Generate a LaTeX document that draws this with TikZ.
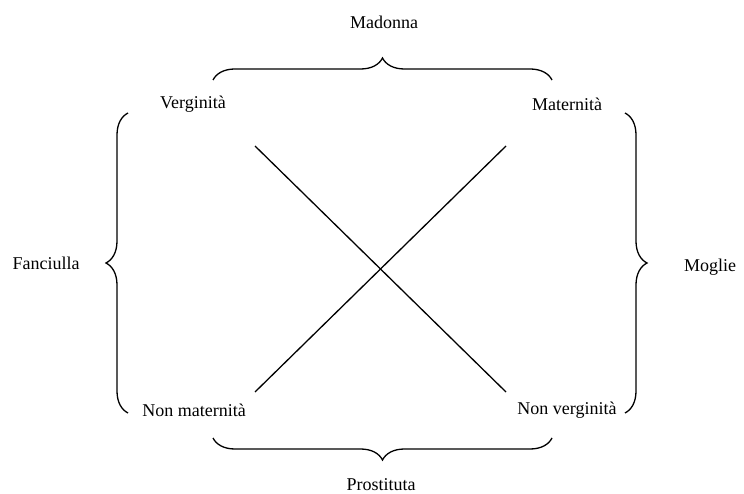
\documentclass[tikz,border=0pt]{standalone}
\usepackage{fontspec}
\setmainfont{Liberation Serif}
\usepackage{tikz}
\usetikzlibrary{decorations.pathreplacing}

\begin{document}
\begin{tikzpicture}[x=1pt,y=-1pt,font=\fontsize{18}{21}\selectfont,
			graffa/.style={decorate,decoration={brace,amplitude=22pt},line width=1.3pt},
			diagonale/.style={line width=1.3pt}]
			\useasboundingbox (0,0) rectangle (744,494);
			% termini del quadrato
			\node (verg) at (193,104) {Verginità};
			\node (mat) at (567,104) {Maternità};
			\node (nonmat) at (194,410) {Non maternità};
			\node (nonverg) at (567,410) {Non verginità};
			% figure
			\node (madonna) at (384,22) {Madonna};
			\node (fanciulla) at (46,263) {Fanciulla};
			\node (moglie) at (710,267) {Moglie};
			\node (prostituta) at (381,485) {Prostituta};
			% estremi delle diagonali
			\coordinate (d1) at (255,146);
			\coordinate (d2) at (506,392);
			\coordinate (d3) at (255,392);
			\coordinate (d4) at (506,146);
			\draw[diagonale] (d1) -- (d2);
			\draw[diagonale] (d3) -- (d4);
			% graffe
			\coordinate (g1) at (213,80);
			\coordinate (g2) at (552,80);
			\coordinate (g3) at (552,438);
			\coordinate (g4) at (213,438);
			\coordinate (g5) at (128,413);
			\coordinate (g6) at (128,113);
			\coordinate (g7) at (625,113);
			\coordinate (g8) at (625,413);
			\draw[graffa] (g1) -- (g2);
			\draw[graffa] (g3) -- (g4);
			\draw[graffa] (g5) -- (g6);
			\draw[graffa] (g7) -- (g8);
		\end{tikzpicture}
\end{document}
